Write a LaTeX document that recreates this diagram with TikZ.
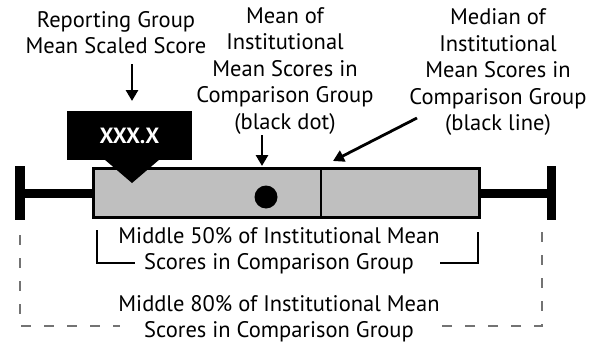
\documentclass[tikz,border=0pt]{standalone}
\usepackage{fontspec}
\setmainfont{PT Sans}
\usetikzlibrary{arrows.meta}
\begin{document}
\begin{tikzpicture}[x=1pt,y=-1pt,
  lbl/.style={align=center,font=\fontsize{22.5}{26.5}\selectfont,inner sep=0pt,text=black},
  arr/.style={line width=2.8pt,-{Triangle[length=11pt,width=12pt]}},
  whisk/.style={line width=9pt},
  capbar/.style={fill=black},
  boxst/.style={draw,line width=3pt,fill=black!25,minimum width=386pt,minimum height=49pt,inner sep=0pt},
  brack/.style={line width=2.5pt},
  dashbr/.style={line width=1.4pt,draw=black!55,dash pattern=on 10pt off 13pt},
]
\useasboundingbox (0,0) rectangle (603,343);
% labels
\node[lbl] (replbl) at (116,32.5) {Reporting Group\\Mean Scaled Score};
\node[lbl] (meanlbl) at (285,71) {Mean of\\Institutional\\Mean Scores in\\Comparison Group\\(black dot)};
\node[lbl] (medlbl) at (498,72.5) {Median of\\Institutional\\Mean Scores in\\Comparison Group\\(black line)};
% whiskers
\coordinate (lcap) at (20,193);
\coordinate (rcap) at (551.5,193);
\draw[whisk] (lcap) -- (rcap);
\fill[capbar] (15,166) rectangle (25,220);
\fill[capbar] (547,166) rectangle (556,220);
% box
\node[boxst] (box) at (286.5,193) {};
\coordinate (medtop) at (321,170);
\coordinate (medbot) at (321,217);
\draw[line width=2.5pt] (medtop) -- (medbot);
\fill (266,197) circle (11.5pt);
% reporting score marker
\node[fill=black,text=white,minimum width=125pt,minimum height=49pt,inner sep=0pt,font=\fontsize{22}{22}\bfseries] (score) at (129.5,135.5) {XXX.X};
\coordinate (tipL) at (104,159);
\coordinate (tipR) at (160,159);
\coordinate (tip) at (132,183);
\fill (tipL) -- (tipR) -- (tip) -- cycle;
% arrows
\coordinate (a1s) at (132,64);
\coordinate (a1e) at (132,101);
\draw[arr] (a1s) -- (a1e);
\coordinate (a2s) at (262,135);
\coordinate (a2e) at (262,166);
\draw[arr] (a2s) -- (a2e);
\coordinate (a3s) at (417,118);
\coordinate (a3e) at (333,161);
\draw[arr] (a3s) -- (a3e);
% 50% bracket
\node[lbl] (mid50) at (279,250.5) {Middle 50\% of Institutional Mean\\Scores in Comparison Group};
\coordinate (b1) at (97,230);
\coordinate (b2) at (97,263);
\coordinate (b3) at (135,263);
\coordinate (b4) at (440,263);
\coordinate (b5) at (478,263);
\coordinate (b6) at (478,232);
\draw[brack] (b1) -- (b2) -- (b3);
\draw[brack] (b4) -- (b5) -- (b6);
% 80% bracket
\node[lbl] (mid80) at (279,318.5) {Middle 80\% of Institutional Mean\\Scores in Comparison Group};
\coordinate (d1) at (20,235);
\coordinate (d2) at (20,326);
\coordinate (d3) at (120,326);
\coordinate (d4) at (437,326);
\coordinate (d5) at (542,326);
\coordinate (d6) at (542,232);
\draw[dashbr] (d1) -- (d2) -- (d3);
\draw[dashbr] (d6) -- (d5) -- (d4);
\end{tikzpicture}
\end{document}
